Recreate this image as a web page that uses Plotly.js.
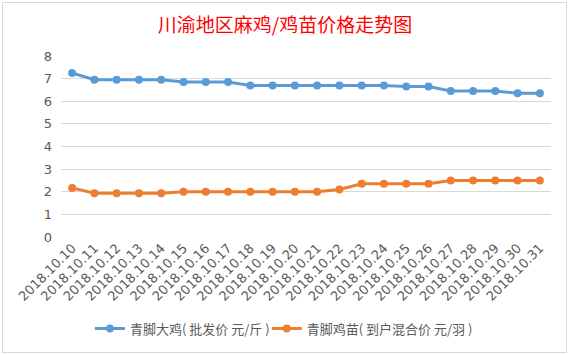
<!DOCTYPE html>
<html>
<head>
<meta charset="utf-8">
<script src="https://cdn.plot.ly/plotly-3.0.1.min.js"></script>
<style>
body{margin:0;padding:0;background:#fff;}
#wrap{position:relative;width:569px;height:355px;}
#chart{position:absolute;left:0;top:0;width:569px;height:355px;}
#frame{position:absolute;left:2px;top:2px;width:563px;height:349px;border:1px solid #d9d9d9;pointer-events:none;}
</style>
</head>
<body>
<div id="wrap"><div id="chart"></div><div id="frame"></div></div>
<script>
const dates = ["2018.10.10","2018.10.11","2018.10.12","2018.10.13","2018.10.14","2018.10.15","2018.10.16","2018.10.17","2018.10.18","2018.10.19","2018.10.20","2018.10.21","2018.10.22","2018.10.23","2018.10.24","2018.10.25","2018.10.26","2018.10.27","2018.10.28","2018.10.29","2018.10.30","2018.10.31"];
const bigChicken = [7.25,6.95,6.95,6.95,6.95,6.85,6.85,6.85,6.7,6.7,6.7,6.7,6.7,6.7,6.7,6.65,6.65,6.45,6.45,6.45,6.35,6.35];
const chicks = [2.17,1.93,1.93,1.93,1.93,2.0,2.0,2.0,2.0,2.0,2.0,2.0,2.1,2.35,2.35,2.35,2.35,2.5,2.5,2.5,2.5,2.5];
const seriesNames = ["青脚大鸡( 批发价 元/斤 )","青脚鸡苗( 到户混合价 元/羽 )"];
const yTicks = [0,1,2,3,4,5,6,7,8];

const traces = [
  {x: dates, y: bigChicken, name: seriesNames[0], type: "scatter", mode: "lines+markers", legend: "legend",
   line: {color: "#5b9bd5", width: 3}, marker: {color: "#5b9bd5", size: 8}},
  {x: dates, y: chicks, name: seriesNames[1], type: "scatter", mode: "lines+markers", legend: "legend2",
   line: {color: "#ed7d31", width: 3}, marker: {color: "#ed7d31", size: 8}}
];

const legendStyle = (x) => ({orientation: "h", x: x, xanchor: "left", y: -(333 - 240)/184, yanchor: "middle",
  font: {size: 13, color: "#595959"}, bgcolor: "rgba(0,0,0,0)"});

const layout = {
  width: 569, height: 355,
  margin: {l: 61, r: 18, t: 56, b: 115},
  paper_bgcolor: "rgba(0,0,0,0)", plot_bgcolor: "#fff",
  font: {family: "'Noto Sans CJK SC', 'Noto Sans', sans-serif", color: "#595959", size: 12},
  title: {text: "川渝地区麻鸡/鸡苗价格走势图", font: {family: "'Noto Sans CJK SC', sans-serif", size: 19, color: "#ff0000"},
          x: 0.501, xanchor: "center", y: 1 - 25/355, yanchor: "middle"},
  xaxis: {type: "category", tickangle: -45, showgrid: false, zeroline: false, showline: false,
          ticks: "", range: [-0.5, 21.5], tickfont: {family: "'DejaVu Sans', sans-serif", size: 13, color: "#595959"}},
  yaxis: {range: [0, 8], tickvals: yTicks, showgrid: true, gridcolor: "#d9d9d9", gridwidth: 1,
          zeroline: false, showline: false, ticks: "", ticklabelstandoff: 8,
          tickfont: {family: "'DejaVu Sans', sans-serif", size: 13, color: "#595959"}},
  legend: legendStyle(0.059),
  legend2: legendStyle(0.420),
  showlegend: true
};
Plotly.newPlot("chart", traces, layout, {displayModeBar: false, staticPlot: true});
</script>
</body>
</html>
